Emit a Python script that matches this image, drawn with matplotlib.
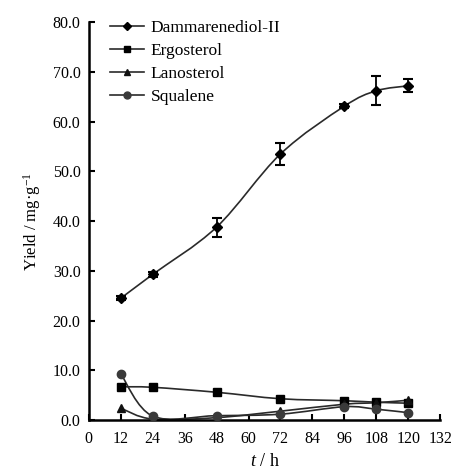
import numpy as np
import matplotlib
matplotlib.use("Agg")
import matplotlib.pyplot as plt
from matplotlib.path import Path
from matplotlib.patches import PathPatch
from matplotlib.lines import Line2D

plt.rcParams['font.family'] = ['Liberation Serif', 'DejaVu Serif']
plt.rcParams['mathtext.fontset'] = 'custom'
plt.rcParams['mathtext.rm'] = 'Liberation Serif'
plt.rcParams['mathtext.it'] = 'Liberation Serif:italic'

# sampling times (h)
t = [12, 24, 48, 72, 96, 108, 120]

# yields (mg/g)
dammarenediol = [24.5, 29.3, 38.8, 53.5, 63.1, 66.2, 67.2]
dammarenediol_err = [0.4, 0.5, 1.9, 2.3, 0.4, 2.9, 1.3]
ergosterol = [6.7, 6.6, 5.6, 4.3, 3.9, 3.6, 3.4]
lanosterol = [2.4, 0.2, 0.5, 1.8, 3.2, 3.5, 4.0]
squalene = [9.3, 0.8, 0.9, 1.2, 2.7, 2.2, 1.5]

xticks = list(range(0, 133, 12))
yticks = np.arange(0, 81, 10)


def smooth_path(x, y):
    # Catmull-Rom style cubic bezier through the points (spreadsheet "smoothed line")
    x = np.asarray(x, float)
    y = np.asarray(y, float)
    pts = np.column_stack([x, y])
    n = len(pts)
    verts = [pts[0]]
    codes = [Path.MOVETO]
    k = 1 / 6.0
    for i in range(n - 1):
        p0 = pts[i - 1] if i > 0 else pts[i]
        p1 = pts[i]
        p2 = pts[i + 1]
        p3 = pts[i + 2] if i + 2 < n else pts[i + 1]
        c1 = p1 + (p2 - p0) * k
        c2 = p2 - (p3 - p1) * k
        verts += [c1, c2, p2]
        codes += [Path.CURVE4] * 3
    return Path(verts, codes)


fig = plt.figure(figsize=(4.51, 4.71), dpi=100)
ax = fig.add_axes([0.197, 0.108, 0.779, 0.845])

series = [
    ("Dammarenediol-II", dammarenediol, 'D', 4.8, '#000000'),
    ("Ergosterol", ergosterol, 's', 5.8, '#000000'),
    ("Lanosterol", lanosterol, '^', 6, '#111111'),
    ("Squalene", squalene, 'o', 6, '#3a3a3a'),
]

handles = []
for name, vals, mk, ms, col in series:
    ax.add_patch(PathPatch(smooth_path(t, vals), fill=False,
                           edgecolor='#2a2a2a', lw=1.2, zorder=2))
    ax.plot(t, vals, linestyle='none', marker=mk, ms=ms, color=col, zorder=3)
    handles.append(Line2D([], [], color='#2a2a2a', lw=1.2, marker=mk,
                          ms=ms - 1, markerfacecolor=col, markeredgecolor=col))

ax.errorbar(t, dammarenediol, yerr=dammarenediol_err, fmt='none',
            ecolor='#000000', elinewidth=1.3, capsize=3.5, capthick=1.5, zorder=4)

ax.set_xlim(0, 132)
ax.set_ylim(0, 80)
ax.set_xticks(xticks)
ax.set_yticks(yticks)
ax.set_yticklabels(["%.1f" % v for v in yticks])

for s in ['top', 'right']:
    ax.spines[s].set_visible(False)
for s in ['left', 'bottom']:
    ax.spines[s].set_linewidth(1.8)
ax.tick_params(direction='in', length=4, width=1.5, labelsize=11.5, pad=8)
ax.tick_params(axis='y', pad=6)

ax.set_ylabel('Yield / mg·g$^{-1}$', fontsize=12, labelpad=7)
ax.set_xlabel('$t$ / h', fontsize=13, labelpad=4)

leg = ax.legend(handles, [s[0] for s in series], loc='upper left',
                bbox_to_anchor=(0.015, 1.045), frameon=False, fontsize=12.5,
                handlelength=2.0, handletextpad=0.35, labelspacing=0.4)

fig.savefig('out.png', dpi=100)
